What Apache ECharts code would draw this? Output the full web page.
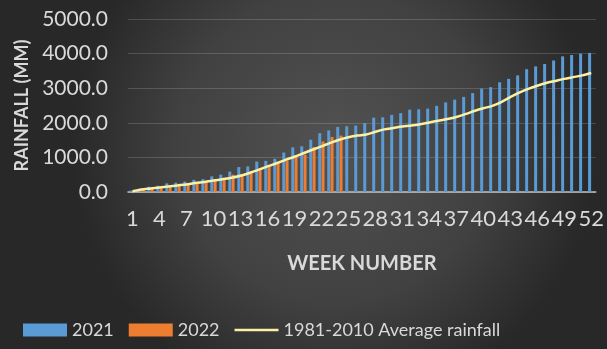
<!DOCTYPE html>
<html>
<head>
<meta charset="utf-8">
<script src="https://cdn.jsdelivr.net/npm/echarts@6/dist/echarts.min.js"></script>
<style>
  html, body { margin: 0; padding: 0; background: #3a3a3a; }
  #chart { width: 607px; height: 349px; }
</style>
</head>
<body>
<div id="chart"></div>
<script>
// Week numbers on the category axis
const weeks = [1, 2, 3, 4, 5, 6, 7, 8, 9, 10, 11, 12, 13, 14, 15, 16, 17, 18, 19, 20,
  21, 22, 23, 24, 25, 26, 27, 28, 29, 30, 31, 32, 33, 34, 35, 36, 37, 38, 39, 40,
  41, 42, 43, 44, 45, 46, 47, 48, 49, 50, 51, 52];

// Cumulative rainfall (mm), 2021
const rain2021 = [40, 90, 150, 180, 250, 270, 300, 350, 370, 450, 500, 590, 720, 740, 880, 900,
  960, 1140, 1290, 1320, 1510, 1700, 1780, 1880, 1900, 1920, 1990, 2150, 2160, 2230,
  2280, 2380, 2390, 2410, 2490, 2590, 2670, 2750, 2860, 2990, 3030, 3170, 3270, 3370,
  3550, 3630, 3700, 3800, 3920, 3960, 4000, 4020];

// Cumulative rainfall (mm), 2022 (weeks 1-24)
const rain2022 = [20, 60, 100, 130, 160, 200, 240, 270, 300, 330, 360, 500, 520, 600, 690, 740,
  840, 900, 1030, 1080, 1300, 1460, 1590, 1630];

// 1981-2010 average cumulative rainfall (mm)
const avgRain = [20, 70, 100, 130, 160, 190, 220, 260, 290, 330, 370, 410, 470, 550, 640, 740,
  830, 930, 1020, 1120, 1220, 1320, 1420, 1510, 1580, 1630, 1660, 1740, 1810, 1850,
  1890, 1920, 1960, 2010, 2060, 2110, 2170, 2250, 2340, 2420, 2490, 2600, 2740, 2870,
  2980, 3070, 3150, 3210, 3270, 3320, 3370, 3440];

// Value-axis ticks
const yTicks = [0, 1000, 2000, 3000, 4000, 5000];

const textColor = '#d9d9d9';
const lineColor = '#fbf0a4';
const font = 'Lato, "Open Sans", sans-serif';

const chart = echarts.init(document.getElementById('chart'), null, { renderer: 'canvas' });

chart.setOption({
  backgroundColor: {
    type: 'radial', x: 0.55, y: 0.42, r: 0.75,
    colorStops: [
      { offset: 0, color: '#525252' },
      { offset: 0.6, color: '#414141' },
      { offset: 1, color: '#282828' }
    ]
  },
  animation: false,
  textStyle: { fontFamily: font },
  grid: { left: 128, right: 10, top: 19, bottom: 157 },
  legend: {
    left: 18, top: 316,
    itemWidth: 44, itemHeight: 13, itemGap: 15,
    symbolKeepAspect: true,
    textStyle: { color: textColor, fontSize: 18, fontFamily: font },
    data: [
      { name: '2021', icon: 'rect' },
      { name: '2022', icon: 'rect' },
      { name: '1981-2010 Average rainfall', icon: 'path://M0,0H44V2.5H0Z' }
    ]
  },
  xAxis: {
    type: 'category',
    data: weeks,
    name: 'WEEK NUMBER',
    nameLocation: 'middle',
    nameGap: 62,
    nameTextStyle: { color: textColor, fontSize: 20, fontWeight: 'bold', fontFamily: font },
    axisLine: { lineStyle: { color: '#bfbfbf', width: 1.5 } },
    axisTick: { show: false },
    axisLabel: { interval: 2, color: textColor, fontSize: 22, margin: 16, fontFamily: font }
  },
  yAxis: {
    type: 'value',
    min: yTicks[0],
    max: yTicks[yTicks.length - 1],
    interval: yTicks[1] - yTicks[0],
    name: 'RAINFALL (MM)',
    nameLocation: 'middle',
    nameGap: 96,
    nameTextStyle: { color: textColor, fontSize: 18, fontWeight: 'bold', fontFamily: font },
    axisLine: { show: false },
    axisTick: { show: false },
    splitLine: { lineStyle: { color: 'rgba(255,255,255,0.16)', width: 1 } },
    axisLabel: {
      color: textColor, fontSize: 21, margin: 20, fontFamily: font,
      formatter: v => v.toFixed(1)
    }
  },
  series: [
    {
      name: '2021', type: 'bar', data: rain2021,
      barWidth: 3, barGap: '10%',
      itemStyle: { color: '#5b9bd5' }
    },
    {
      name: '2022', type: 'bar', data: rain2022,
      barWidth: 3,
      itemStyle: { color: '#ed7d31' }
    },
    {
      name: '1981-2010 Average rainfall', type: 'line', data: avgRain,
      symbol: 'none', smooth: 0.3,
      lineStyle: { color: lineColor, width: 2.5 },
      itemStyle: { color: lineColor }
    }
  ]
});
</script>
</body>
</html>
